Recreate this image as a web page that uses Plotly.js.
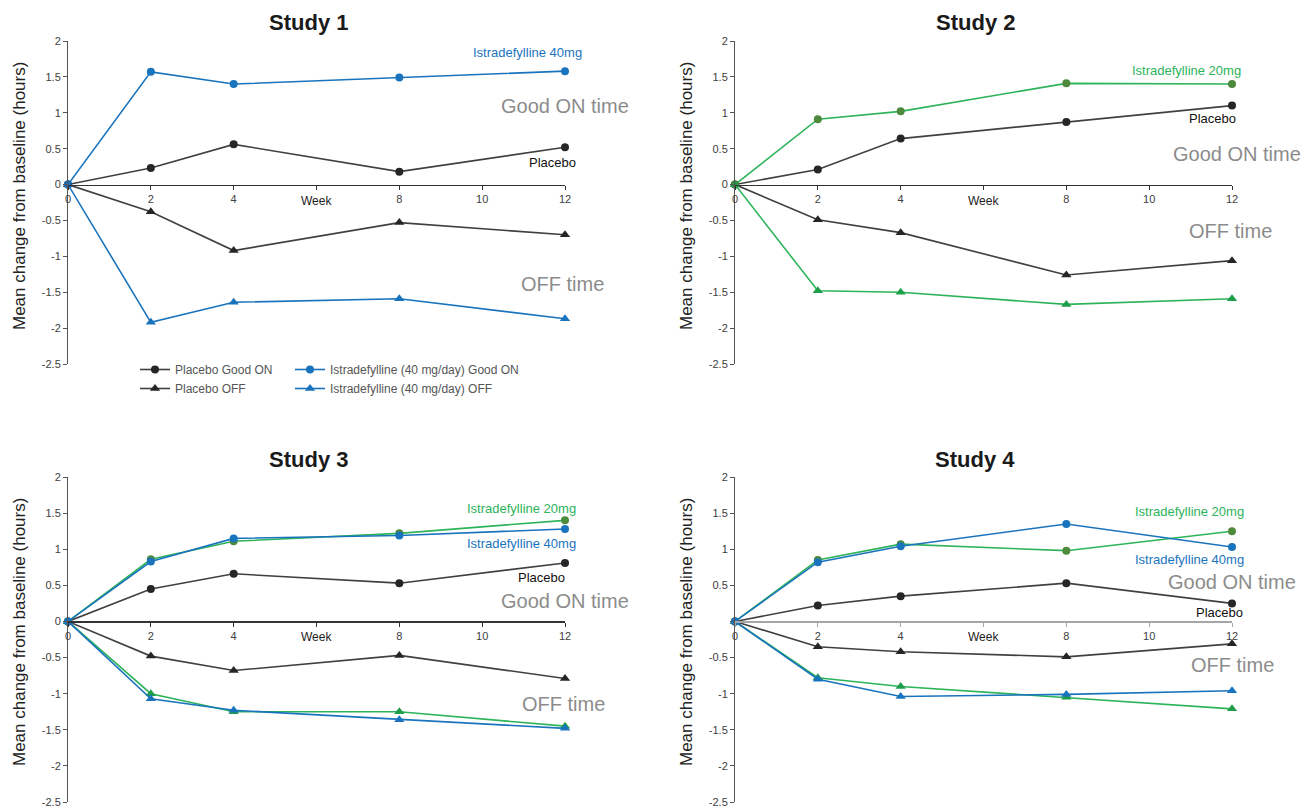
<!DOCTYPE html>
<html><head><meta charset="utf-8">
<script src="https://cdn.plot.ly/plotly-3.0.1.min.js"></script>
<style>html,body{margin:0;padding:0;background:#fff}</style>
</head><body><div id="chart" style="width:1301px;height:810px"></div>
<script>
const weeks = [0, 2, 4, 8, 12];
// Study 1
const s1PlaceboOn  = [0, 0.23, 0.56, 0.18, 0.52];
const s1Istra40On  = [0, 1.57, 1.40, 1.49, 1.58];
const s1PlaceboOff = [0, -0.38, -0.92, -0.53, -0.70];
const s1Istra40Off = [0, -1.92, -1.64, -1.59, -1.87];
// Study 2
const s2PlaceboOn  = [0, 0.21, 0.64, 0.87, 1.10];
const s2Istra20On  = [0, 0.91, 1.02, 1.41, 1.40];
const s2PlaceboOff = [0, -0.49, -0.67, -1.26, -1.06];
const s2Istra20Off = [0, -1.48, -1.50, -1.67, -1.59];
// Study 3
const s3PlaceboOn  = [0, 0.45, 0.66, 0.53, 0.81];
const s3Istra20On  = [0, 0.86, 1.11, 1.22, 1.40];
const s3Istra40On  = [0, 0.83, 1.15, 1.19, 1.28];
const s3PlaceboOff = [0, -0.48, -0.68, -0.47, -0.79];
const s3Istra20Off = [0, -1.00, -1.25, -1.25, -1.45];
const s3Istra40Off = [0, -1.07, -1.23, -1.36, -1.48];
// Study 4
const s4PlaceboOn  = [0, 0.22, 0.35, 0.53, 0.25];
const s4Istra20On  = [0, 0.85, 1.07, 0.98, 1.25];
const s4Istra40On  = [0, 0.82, 1.04, 1.35, 1.03];
const s4PlaceboOff = [0, -0.35, -0.42, -0.49, -0.31];
const s4Istra20Off = [0, -0.78, -0.90, -1.05, -1.21];
const s4Istra40Off = [0, -0.80, -1.04, -1.01, -0.96];

const xTickVals = [0, 2, 4, 6, 8, 10, 12];
const xTickText = ['0', '2', '4', '', '8', '10', '12'];
const yTickVals = [2, 1.5, 1, 0.5, 0, -0.5, -1, -1.5, -2, -2.5];
const yTickText = ['2', '1.5', '1', '0.5', '0', '-0.5', '-1', '-1.5', '-2', '-2.5'];
const yTickText4 = ['2', '1.5', '1', '0.5', '', '-0.5', '-1', '-1.5', '-2', '-2.5'];
const studyTitles = ['Study 1', 'Study 2', 'Study 3', 'Study 4'];
const yTitle = 'Mean change from baseline (hours)';
const legendNames = ['Placebo Good ON', 'Istradefylline (40 mg/day) Good ON', 'Placebo OFF', 'Istradefylline (40 mg/day) OFF'];

const W = 1301, H = 810;
const FONT = 'Arial, "Liberation Sans", sans-serif';
const BLUE = '#1a74bd', GREEN = '#2db35a', GREEN_M = '#4e8a3c', GREEN_T = '#1f9e4a', GRAYL = '#404040', BLK = '#262626';
const YMIN = -2.5, YMAX = 2;

const px = v => v / W;
const py = v => 1 - v / H;

const colsPx = [[68, 565], [735, 1232]];
const rowsPx = [[41, 364], [477, 802]];

function line(ax, y, name, color, mcolor, symbol, opts) {
  const t = {
    x: weeks, y: y, name: name, type: 'scatter', mode: 'lines+markers',
    xaxis: 'x' + (ax === 1 ? '' : ax), yaxis: 'y' + (ax === 1 ? '' : ax),
    line: {color: color, width: 1.6},
    marker: {color: mcolor, symbol: symbol, size: symbol === 'circle' ? 8 : 9},
    cliponaxis: false, showlegend: false
  };
  return Object.assign(t, opts || {});
}

const traces = [
  // Study 1
  line(1, s1PlaceboOn, legendNames[0], GRAYL, BLK, 'circle', {showlegend: true, legend: 'legend'}),
  line(1, s1Istra40On, legendNames[1], BLUE, BLUE, 'circle', {showlegend: true, legend: 'legend2'}),
  line(1, s1PlaceboOff, legendNames[2], GRAYL, BLK, 'triangle-up', {showlegend: true, legend: 'legend'}),
  line(1, s1Istra40Off, legendNames[3], BLUE, BLUE, 'triangle-up', {showlegend: true, legend: 'legend2'}),
  // Study 2
  line(2, s2PlaceboOn, 'Placebo Good ON', GRAYL, BLK, 'circle'),
  line(2, s2PlaceboOff, 'Placebo OFF', GRAYL, BLK, 'triangle-up'),
  line(2, s2Istra20On, 'Istradefylline 20mg Good ON', GREEN, GREEN_M, 'circle'),
  line(2, s2Istra20Off, 'Istradefylline 20mg OFF', GREEN, GREEN_T, 'triangle-up'),
  // Study 3
  line(3, s3PlaceboOn, 'Placebo Good ON', GRAYL, BLK, 'circle'),
  line(3, s3PlaceboOff, 'Placebo OFF', GRAYL, BLK, 'triangle-up'),
  line(3, s3Istra20On, 'Istradefylline 20mg Good ON', GREEN, GREEN_M, 'circle'),
  line(3, s3Istra20Off, 'Istradefylline 20mg OFF', GREEN, GREEN_T, 'triangle-up'),
  line(3, s3Istra40On, 'Istradefylline 40mg Good ON', BLUE, BLUE, 'circle'),
  line(3, s3Istra40Off, 'Istradefylline 40mg OFF', BLUE, BLUE, 'triangle-up'),
  // Study 4
  line(4, s4PlaceboOn, 'Placebo Good ON', GRAYL, BLK, 'circle'),
  line(4, s4PlaceboOff, 'Placebo OFF', GRAYL, BLK, 'triangle-up'),
  line(4, s4Istra20On, 'Istradefylline 20mg Good ON', GREEN, GREEN_M, 'circle'),
  line(4, s4Istra20Off, 'Istradefylline 20mg OFF', GREEN, GREEN_T, 'triangle-up'),
  line(4, s4Istra40On, 'Istradefylline 40mg Good ON', BLUE, BLUE, 'circle'),
  line(4, s4Istra40Off, 'Istradefylline 40mg OFF', BLUE, BLUE, 'triangle-up')
];

const layout = {
  width: W, height: H, margin: {l: 0, r: 0, t: 0, b: 0},
  paper_bgcolor: '#fff', plot_bgcolor: 'rgba(0,0,0,0)',
  font: {family: FONT, color: '#333'},
  annotations: [],
  legend: {x: px(135), y: py(355), xanchor: 'left', yanchor: 'top', bgcolor: 'rgba(0,0,0,0)',
           font: {size: 12, color: '#555', family: FONT}, tracegroupgap: 0},
  legend2: {x: px(290), y: py(355), xanchor: 'left', yanchor: 'top', bgcolor: 'rgba(0,0,0,0)',
            font: {size: 12, color: '#555', family: FONT}, tracegroupgap: 0}
};

for (let i = 0; i < 4; i++) {
  const c = colsPx[i % 2], r = rowsPx[Math.floor(i / 2)];
  const xd = [px(c[0]), px(c[1])];
  const yd = [py(r[1]), py(r[0])];
  const zeroPos = yd[0] + (0 - YMIN) / (YMAX - YMIN) * (yd[1] - yd[0]);
  const sfx = i === 0 ? '' : String(i + 1);
  const xLineColor = i === 3 ? '#a6a6a6' : '#333';
  layout['xaxis' + sfx] = {
    domain: xd, range: [0, 12], anchor: 'free', position: zeroPos,
    showline: true, linecolor: xLineColor, linewidth: 1.2,
    ticks: 'outside', ticklen: 4, tickcolor: xLineColor, tickwidth: 1,
    tickmode: 'array', tickvals: xTickVals, ticktext: xTickText,
    tickfont: {size: 11, color: '#404040', family: FONT},
    showgrid: false, zeroline: false
  };
  layout['yaxis' + sfx] = {
    domain: yd, range: [YMIN, YMAX], anchor: 'x' + sfx,
    showline: true, linecolor: '#555', linewidth: 1,
    ticks: 'outside', ticklen: 4, tickcolor: '#555', tickwidth: 1,
    tickmode: 'array', tickvals: yTickVals, ticktext: i === 3 ? yTickText4 : yTickText,
    tickfont: {size: 11, color: '#404040', family: FONT},
    showgrid: false, zeroline: false
  };
  // Study title
  layout.annotations.push({
    text: '<b>' + studyTitles[i] + '</b>', xref: 'paper', yref: 'paper',
    x: px(c[0] + 240), y: py(r[0] - 18), xanchor: 'center', yanchor: 'middle',
    showarrow: false, font: {size: 22, color: '#1a1a1a', family: FONT}
  });
  // Y axis title
  layout.annotations.push({
    text: yTitle, xref: 'paper', yref: 'paper', textangle: -90,
    x: px(c[0] - 49), y: py(r[0] + 155), xanchor: 'center', yanchor: 'middle',
    showarrow: false, font: {size: 17, color: '#222', family: FONT}
  });
  // Week label
  layout.annotations.push({
    text: 'Week', xref: 'x' + sfx, yref: 'y' + sfx, x: 6, y: 0,
    xanchor: 'center', yanchor: 'top', yshift: -7,
    showarrow: false, font: {size: 12, color: '#222', family: FONT}
  });
}

function lab(ax, text, x, y, color, size, xshift) {
  const sfx = ax === 1 ? '' : String(ax);
  layout.annotations.push({
    text: text, xref: 'x' + sfx, yref: 'y' + sfx, x: x, y: y, xshift: xshift || 0,
    xanchor: 'center', yanchor: 'middle', showarrow: false,
    font: {size: size, color: color, family: FONT}
  });
}
const GRAYTXT = '#8c8c8c';
// Study 1 labels
lab(1, 'Istradefylline 40mg', 11.1, 1.84, BLUE, 13);
lab(1, 'Good ON time', 12.0, 1.09, GRAYTXT, 20);
lab(1, 'Placebo', 11.69, 0.31, '#111', 13);
lab(1, 'OFF time', 11.95, -1.38, GRAYTXT, 20);
// Study 2 labels
lab(2, 'Istradefylline 20mg', 10.91, 1.59, GREEN, 13);
lab(2, 'Placebo', 11.52, 0.92, '#111', 13);
lab(2, 'Good ON time', 12.0, 0.43, GRAYTXT, 20, 5);
lab(2, 'OFF time', 11.97, -0.65, GRAYTXT, 20);
// Study 3 labels
lab(3, 'Istradefylline 20mg', 10.96, 1.565, GREEN, 13);
lab(3, 'Istradefylline 40mg', 10.96, 1.08, BLUE, 13);
lab(3, 'Placebo', 11.44, 0.61, '#111', 13);
lab(3, 'Good ON time', 12.0, 0.28, GRAYTXT, 20);
lab(3, 'OFF time', 11.97, -1.14, GRAYTXT, 20);
// Study 4 labels
lab(4, 'Istradefylline 20mg', 10.98, 1.52, GREEN, 13);
lab(4, 'Istradefylline 40mg', 10.98, 0.86, BLUE, 13);
lab(4, 'Good ON time', 12.0, 0.54, GRAYTXT, 20);
lab(4, 'Placebo', 11.69, 0.125, '#111', 13);
lab(4, 'OFF time', 12.0, -0.6, GRAYTXT, 20);

Plotly.newPlot('chart', traces, layout, {displayModeBar: false, staticPlot: true});
</script>
</body></html>
